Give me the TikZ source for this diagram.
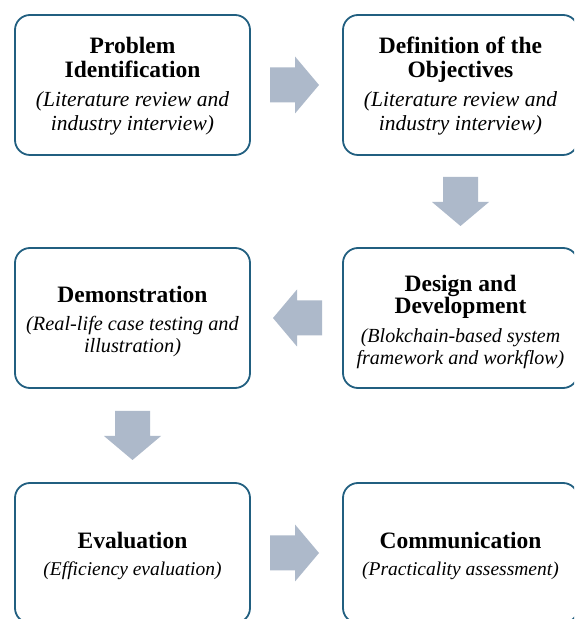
\documentclass[tikz,border=0pt]{standalone}
\usepackage{fontspec}
\setmainfont{Liberation Serif}
\usetikzlibrary{calc}
\definecolor{boxline}{HTML}{215F80}
\definecolor{arrowfill}{HTML}{ADB9CA}
\newcommand{\ttlline}[1]{{\fontsize{23.5}{24}\selectfont\bfseries #1}}
\newcommand{\subline}[2]{{\fontsize{#1}{24}\selectfont\itshape #2}}
\tikzset{
  stagebox/.style={draw=boxline, line width=1.8pt, fill=white, rounded corners=15pt,
    minimum width=235pt, minimum height=140pt, inner sep=0pt},
  txt/.style={align=center, inner sep=0pt, text=black},
  lead/.style={font=\fontsize{20}{#1}\selectfont},
  blockarrow/.pic={\fill[arrowfill] (-24.5,-17.5) -- (0.5,-17.5) -- (0.5,-28.5) -- (24.5,0)
     -- (0.5,28.5) -- (0.5,17.5) -- (-24.5,17.5) -- cycle;}
}
\begin{document}
\begin{tikzpicture}[x=1pt,y=1pt]
\useasboundingbox (0,0) rectangle (574,619);
\clip (0,0) rectangle (574,619);
\fill[white] (0,0) rectangle (574,619);
% boxes
\node[stagebox] (p1) at (132.5,534) {};
\node[stagebox] (p2) at (460.5,534) {};
\node[stagebox] (p3) at (132.5,301) {};
\node[stagebox] (p4) at (460.5,301) {};
\node[stagebox] (p5) at (132.5,66) {};
\node[stagebox] (p6) at (460.5,66) {};
% texts
\node[txt, lead=23.5] (t1) at ($(p1.center)+(0,-1)$) {\ttlline{Problem}\\\ttlline{Identification}\\[6pt]\subline{21.5}{(Literature review and}\\\subline{21.5}{industry interview)}};
\node[txt, lead=23.5] (t2) at ($(p2.center)+(0,-1)$) {\ttlline{Definition of the}\\\ttlline{Objectives}\\[6pt]\subline{21.5}{(Literature review and}\\\subline{21.5}{industry interview)}};
\node[txt, lead=22.5] (t3) at ($(p3.center)+(0,-4)$) {\ttlline{Demonstration}\\[5pt]\subline{20.3}{(Real-life case testing and}\\\subline{20.3}{illustration)}};
\node[txt, lead=22.5] (t4) at ($(p4.center)+(0,-4)$) {\ttlline{Design and}\\\ttlline{Development}\\[6pt]\subline{20}{(Blokchain-based system}\\\subline{20}{framework and workflow)}};
\node[txt, lead=22.5] (t5) at ($(p5.center)+(0,-3)$) {\ttlline{Evaluation}\\[5pt]\subline{19.5}{(Efficiency evaluation)}};
\node[txt, lead=22.5] (t6) at ($(p6.center)+(0,-3)$) {\ttlline{Communication}\\[5pt]\subline{19.5}{(Practicality assessment)}};
% arrows
\coordinate (m12) at ($(p1.east)!0.5!(p2.west)+(-2,0)$);
\coordinate (m24) at ($(p2.south)!0.5!(p4.north)$);
\coordinate (m43) at ($(p4.west)!0.5!(p3.east)+(1,0)$);
\coordinate (m35) at ($(p3.south)!0.5!(p5.north)$);
\coordinate (m56) at ($(p5.east)!0.5!(p6.west)+(-2,0)$);
\pic at (m12) {blockarrow};
\pic[rotate=-90] at (m24) {blockarrow};
\pic[rotate=180] at (m43) {blockarrow};
\pic[rotate=-90] at (m35) {blockarrow};
\pic at (m56) {blockarrow};
\end{tikzpicture}
\end{document}
